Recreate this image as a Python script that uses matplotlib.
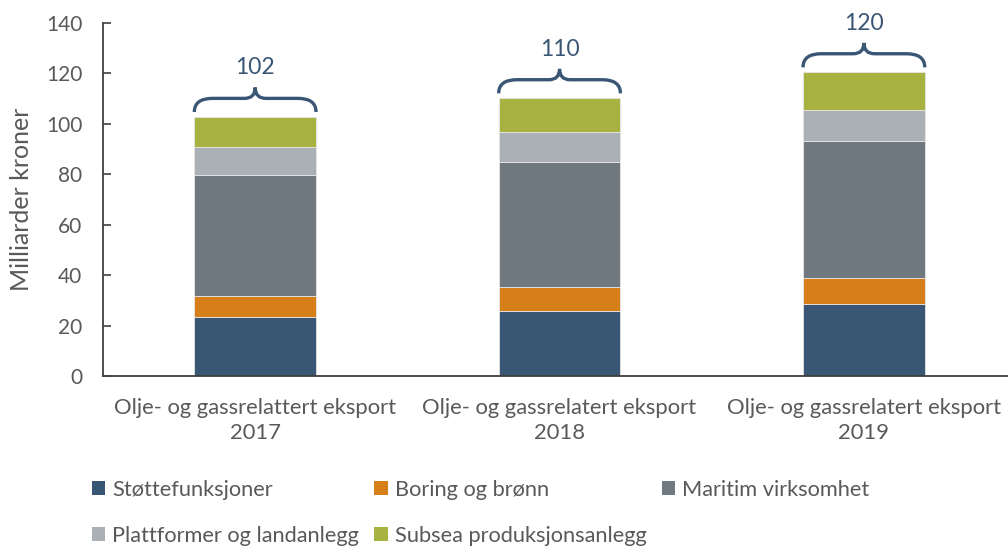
import numpy as np
import matplotlib
matplotlib.use("Agg")
import matplotlib.pyplot as plt
from matplotlib.path import Path
from matplotlib.patches import PathPatch, Patch

plt.rcParams["font.family"] = ["Lato", "DejaVu Sans"]

# ── Data ──────────────────────────────────────────────────────────────────────
categories = [
    "Olje- og gassrelattert eksport\n2017",
    "Olje- og gassrelatert eksport\n2018",
    "Olje- og gassrelatert eksport\n2019",
]
series_names = [
    "Støttefunksjoner",
    "Boring og brønn",
    "Maritim virksomhet",
    "Plattformer og landanlegg",
    "Subsea produksjonsanlegg",
]
stotte    = [23.5, 25.9, 28.7]
boring    = [8.2, 9.3, 10.0]
maritim   = [47.9, 49.8, 54.3]
plattform = [11.3, 11.7, 12.6]
subsea    = [12.0, 13.6, 15.0]
total_labels = ["102", "110", "120"]

colors = ["#3A5675", "#D67F1A", "#717980", "#AAB0B6", "#A8B240"]
TEXT = "#595959"
BRACE = "#3A5675"

# ── Figure ────────────────────────────────────────────────────────────────────
fig = plt.figure(figsize=(10.08, 5.46), dpi=100)
ax = fig.add_axes([0.1022, 0.3114, 0.9058, 0.6465])

x = np.arange(len(categories))
width = 0.40
bottom = np.zeros(len(categories))
handles = []
for vals, name, col in zip([stotte, boring, maritim, plattform, subsea],
                           series_names, colors):
    ax.bar(x, vals, width, bottom=bottom, color=col,
           edgecolor="#e6e6e6", linewidth=0.6, label=name)
    bottom += np.array(vals)
    handles.append(Patch(facecolor=col, edgecolor="none", label=name))


def draw_brace(ax, xc, w, top, label):
    # krøllparentes over stolpen, med totalen over
    x0, x1 = xc - w / 2, xc + w / 2
    base, mid, tip = top + 1.8, top + 7.2, top + 11.5
    rx, cx = 0.06, 0.035
    verts = [
        (x0, base), (x0, mid), (x0 + rx, mid),
        (xc - cx, mid),
        (xc, mid), (xc, tip),
        (xc, mid), (xc + cx, mid),
        (x1 - rx, mid),
        (x1, mid), (x1, base),
    ]
    codes = [Path.MOVETO, Path.CURVE3, Path.CURVE3,
             Path.LINETO,
             Path.CURVE3, Path.CURVE3,
             Path.CURVE3, Path.CURVE3,
             Path.LINETO,
             Path.CURVE3, Path.CURVE3]
    ax.add_patch(PathPatch(Path(verts, codes), facecolor="none",
                           edgecolor=BRACE, linewidth=2.4,
                           capstyle="butt", clip_on=False))
    ax.text(xc, top + 19.3, label, ha="center", va="center",
            fontsize=16.5, color=BRACE, clip_on=False)


for xi, tot, lab in zip(x, bottom, total_labels):
    draw_brace(ax, xi, width, tot, lab)

ax.set_xlim(-0.5, 2.5)
ax.set_ylim(0, 140)
ax.set_yticks(np.arange(0, 141, 20))
ax.set_xticks(x)
ax.set_xticklabels(categories, fontsize=15.8, color=TEXT, linespacing=1.3)
ax.tick_params(axis="x", length=0, pad=16)
ax.tick_params(axis="y", direction="in", length=6, width=1.2,
               color="#404040", labelsize=15, labelcolor=TEXT, pad=15)
ax.set_ylabel("Milliarder kroner", fontsize=18, color=TEXT, labelpad=9)

for s in ["top", "right"]:
    ax.spines[s].set_visible(False)
for s in ["left", "bottom"]:
    ax.spines[s].set_color("#404040")
    ax.spines[s].set_linewidth(1.3)

# legende i rad-rekkefølge
order = [0, 3, 1, 4, 2]
fig.legend([handles[i] for i in order], [series_names[i] for i in order],
           ncol=3, loc="upper left", bbox_to_anchor=(0.0913, 0.121),
           frameon=False, fontsize=15.7, labelcolor=TEXT,
           handlelength=0.6, handleheight=0.6, handletextpad=0.33,
           columnspacing=0.7, labelspacing=1.2, borderpad=0,
           borderaxespad=0)

fig.savefig("out.png", dpi=100)
